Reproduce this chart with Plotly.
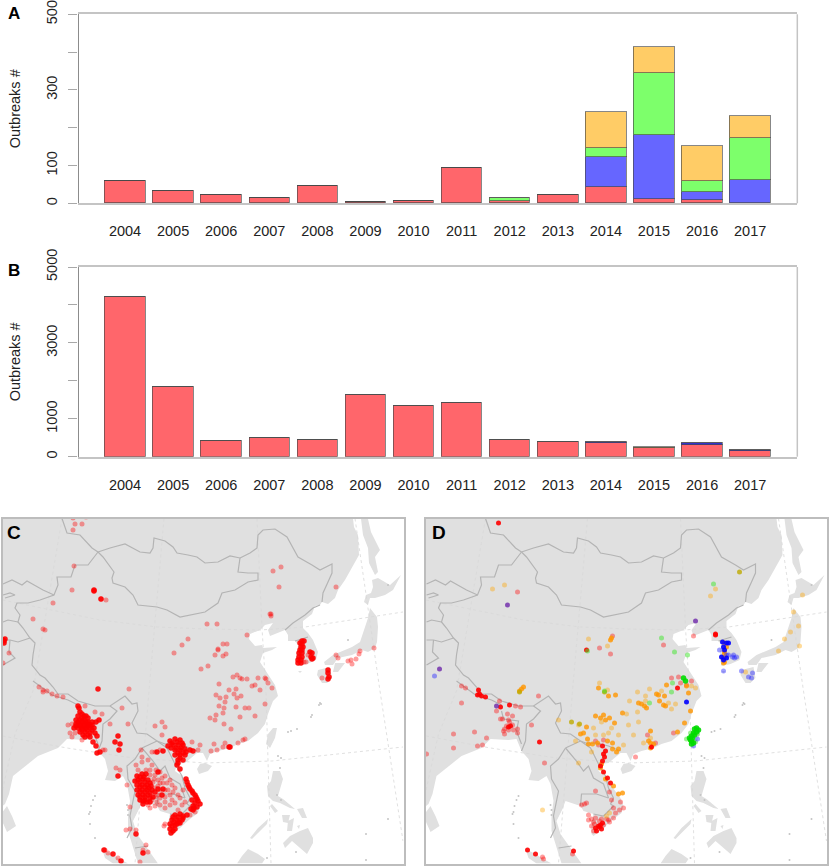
import plotly.graph_objects as go

W, H = 830, 867
FONT = 'Liberation Sans'

years = [2004, 2005, 2006, 2007, 2008, 2009, 2010, 2011, 2012, 2013, 2014, 2015, 2016, 2017]
year_labels = [str(y) for y in years]

# panel A, counts per serotype
a_red = [57, 31, 20, 12, 44, 3, 4, 93, 5, 22, 42, 11, 8, 1]
a_blue = [0, 0, 0, 0, 0, 0, 0, 0, 0, 0, 81, 169, 21, 59]
a_green = [0, 0, 0, 0, 0, 0, 0, 0, 8, 0, 22, 163, 28, 111]
a_yellow = [0, 0, 0, 0, 0, 0, 0, 0, 0, 0, 97, 69, 93, 59]
a_ticks = [0, 100, 200, 300, 400, 500]
a_ticktext = ['0', '100', '', '300', '', '500']

# panel B
b_red = [4200, 1845, 413, 483, 448, 1625, 1335, 1423, 440, 378, 365, 230, 299, 150]
b_blue = [0, 0, 0, 0, 0, 0, 0, 0, 0, 0, 13, 0, 70, 20]
b_yellow = [0, 0, 0, 0, 0, 0, 0, 0, 0, 0, 0, 25, 0, 6]
b_ticks = [0, 1000, 2000, 3000, 4000, 5000]
b_ticktext = ['0', '1000', '', '3000', '', '5000']

# base map in its own units
mainland = [(2.5, 518.5), (353, 518.5), (354, 527), (358, 535), (359, 555), (352, 568), (345, 580), (338, 590),
            (335, 598), (328, 604), (322, 602), (320, 605), (315, 606), (312, 614), (303, 621), (303, 628),
            (308, 633), (313, 640), (318, 652), (316, 660), (307, 664), (298, 666), (296, 657), (298, 645),
            (295, 641), (288, 641), (288, 635), (285, 630), (270, 636), (268, 630), (273, 623), (265, 625),
            (260, 630), (250, 634), (249, 639), (255, 646), (262, 645), (263, 648), (277, 647), (272, 650),
            (263, 653), (260, 662), (265, 670), (270, 678), (275, 685), (278, 696), (273, 701), (268, 714),
            (265, 724), (258, 733), (248, 741), (238, 744), (230, 748), (218, 751), (210, 754), (207, 761),
            (203, 753), (197, 753), (185, 763), (177, 764), (175, 771), (182, 776), (188, 786), (197, 798),
            (200, 806), (198, 813), (190, 819), (180, 828), (170, 836), (168, 834), (168, 823), (170, 814),
            (160, 811), (157, 806), (147, 803), (142, 801), (139, 809), (133, 821), (137, 834), (147, 848),
            (158, 863.5), (138, 863.5), (133, 848), (128, 831), (128, 816), (130, 801), (127, 784), (123, 776),
            (115, 781), (105, 780), (108, 771), (105, 759), (98, 751), (93, 739), (85, 740), (67, 739),
            (58, 748), (38, 756), (23, 768), (13, 776), (9, 794), (5, 804), (2.5, 806)]
islands = [
    [(102, 849), (110, 853), (120, 859), (128, 863.5), (113, 863.5), (105, 858)],  # Sumatra
    [(7, 806), (12, 816), (16, 826), (7, 832), (2.5, 822), (2.5, 812)],  # Sri Lanka
    [(197, 769), (200, 764), (205, 763), (212, 766), (208, 771), (203, 773), (199, 774)],  # Hainan
    [(273, 728), (277, 728), (275, 738), (270, 748), (266, 744), (268, 734)],  # Taiwan
    [(273, 771), (280, 771), (283, 779), (280, 788), (278, 796), (283, 799), (292, 806), (295, 809),
     (290, 808), (280, 803), (273, 801), (268, 796), (267, 786), (271, 781)],  # Luzon
    [(300, 831), (308, 828), (313, 838), (313, 843), (307, 854), (300, 848), (292, 841), (285, 848),
     (283, 843), (290, 836)],  # Mindanao
    [(268, 819), (267, 824), (258, 833), (252, 839), (250, 838), (258, 828)],  # Palawan
    [(272, 804), (278, 811), (275, 813), (270, 806)],  # Mindoro
    [(297, 809), (303, 808), (307, 818), (302, 818)],  # Samar
    [(282, 815), (290, 815), (288, 823), (283, 822)],  # Panay
    [(288, 821), (294, 818), (292, 831), (287, 831)],  # Negros
    [(297, 826), (300, 825), (299, 829)],  # Bohol
    [(248, 849), (258, 854), (265, 859), (262, 863.5), (237, 863.5), (242, 856)],  # Borneo
    [(361, 519), (368, 519), (371, 532), (380, 550), (375, 557), (378, 572), (375, 575), (369, 563),
     (368, 548), (363, 535)],  # Sakhalin
    [(372, 580), (378, 578), (390, 585), (401, 575), (393, 590), (385, 595), (375, 598), (370, 598),
     (368, 605), (364, 602), (366, 595), (371, 593), (373, 587)],  # Hokkaido
    [(370, 608), (377, 617), (378, 627), (377, 642), (375, 648), (368, 652), (362, 650), (352, 655),
     (338, 658), (333, 665), (325, 665), (324, 662), (333, 655), (352, 647), (360, 642), (365, 628),
     (368, 618)],  # Honshu
    [(335, 663), (345, 663), (338, 672), (333, 672)],  # Shikoku
    [(318, 670), (330, 667), (332, 678), (327, 683), (322, 683), (317, 675)],  # Kyushu
    [(298, 671), (302, 671), (300, 673)],  # Cheju
]
islets_x = [320, 321, 319, 312, 311, 288, 291, 297, 95, 93, 91, 90, 89, 90, 95, 127, 128, 128, 278, 281, 280, 277, 281,
            388, 366, 366, 296, 267, 348, 388]
islets_y = [703, 704, 705, 715, 717, 732, 731, 729, 796, 800, 806, 812, 814, 824, 838, 805, 810, 815, 756, 758, 768, 795, 800,
            819, 834, 860, 852, 858, 640, 585]

borders = [
    [(62, 518.5), (67, 533), (80, 535), (87, 542), (92, 548), (98, 552)],
    [(98, 552), (110, 548), (125, 544), (133, 548), (140, 552), (150, 553), (153, 548), (154, 538), (165, 541),
     (173, 547), (177, 553), (188, 555), (197, 557), (205, 563), (218, 562), (230, 556), (240, 558)],
    [(240, 558), (250, 553), (257, 548), (258, 535), (263, 530), (275, 529), (287, 537), (293, 548), (298, 557),
     (312, 565), (320, 570), (332, 564), (332, 573), (328, 582), (323, 593), (322, 602)],
    [(98, 552), (103, 557), (114, 572), (112, 578), (113, 583), (125, 587), (133, 595), (138, 605), (157, 607),
     (167, 610), (180, 617), (205, 612), (218, 603), (222, 593), (235, 590), (248, 582), (258, 580), (258, 573),
     (248, 573), (238, 572), (240, 558)],
    [(98, 552), (88, 565), (75, 565), (71, 577), (57, 577), (58, 585), (54, 595), (40, 600), (28, 603), (17, 603),
     (15, 608), (20, 615), (18, 622), (23, 628), (30, 638), (35, 643), (33, 655), (32, 665), (40, 675), (45, 678),
     (53, 687), (58, 694), (68, 694), (78, 701), (95, 706), (110, 706), (125, 696), (132, 704), (137, 703),
     (138, 711), (132, 723), (137, 733), (147, 734), (157, 741), (165, 744), (173, 743), (185, 746), (197, 751)],
    [(33, 681), (42, 688), (52, 695), (68, 700), (78, 705)],
    [(3, 584), (12, 580), (22, 585), (27, 581), (43, 590), (54, 595)],
    [(3, 595), (10, 593), (15, 595), (5, 598)],
    [(3, 622), (8, 620), (18, 622)],
    [(3, 640), (10, 640), (18, 642), (30, 638)],
    [(10, 640), (9, 652), (15, 658), (3, 665)],
    [(110, 706), (117, 711), (110, 719), (103, 724), (102, 741), (98, 751)],
    [(78, 711), (80, 719), (95, 721), (93, 731), (98, 744)],
    [(142, 748), (135, 759), (127, 766), (128, 779), (135, 791), (132, 804), (130, 816), (132, 828), (127, 838)],
    [(142, 748), (157, 741)],
    [(142, 748), (153, 761), (160, 771), (165, 766), (170, 778), (180, 784), (185, 798)],
    [(157, 806), (158, 794), (173, 794), (185, 798)],
    [(157, 741), (167, 748), (175, 764), (182, 776), (185, 788), (190, 798), (187, 804)],
    [(187, 804), (190, 806), (180, 816), (170, 814)],
    [(148, 846), (135, 848)],
    [(285, 630), (293, 623), (305, 615), (313, 608), (320, 605)],
    [(295, 641), (308, 637)],
]
graticule = [
    [(62, 518.5), (33, 691), (15, 734), (2.5, 790)],
    [(164, 518.5), (149, 691), (135, 863.5)],
    [(257, 518.5), (262, 628), (266, 691), (271, 863.5)],
    [(355, 518.5), (380, 691), (403, 841)],
    [(2.5, 600), (50, 610), (100, 620), (157, 627), (205, 629), (260, 630), (305, 627), (403, 612)],
    [(2.5, 736), (67, 748), (133, 758), (205, 763), (272, 761), (403, 747)],
]

# panel C outbreaks
c_faint = [(73, 518), (75, 524), (82, 524), (86, 517), (73, 530), (74, 566), (72, 590), (101, 599), (106, 600),
           (53, 603), (33, 619), (43, 629), (45, 630), (9, 653), (3, 663), (188, 639), (182, 645), (174, 653),
           (201, 669), (129, 689), (39, 687), (43, 690), (47, 691),
           (273, 571), (281, 567), (279, 587), (336, 587), (270, 614), (271, 616), (271, 614), (207, 624), (217, 624),
           (247, 635), (223, 644), (227, 644), (218, 649), (218, 650), (215, 655), (223, 656), (226, 654), (208, 666),
           (233, 677), (237, 675), (240, 678), (242, 679), (247, 679), (258, 678), (265, 678), (266, 679), (219, 684),
           (252, 686), (255, 685), (268, 683), (272, 688), (229, 690), (236, 689), (260, 690),
           (336, 655), (338, 658), (348, 661), (351, 660), (352, 664), (356, 659), (359, 654), (360, 651), (374, 648),
           (322, 678), (308, 655), (306, 662), (304, 662),
           (216, 695), (220, 698), (226, 697), (234, 694), (237, 698), (241, 696), (225, 702), (219, 706), (224, 708),
           (236, 707), (245, 708), (249, 708), (265, 704), (223, 713), (216, 715), (210, 718), (215, 720), (240, 717),
           (255, 716), (224, 724), (231, 729), (245, 739), (243, 740), (225, 743), (214, 744), (223, 747), (217, 750),
           (211, 751), (238, 743),
           (43, 692), (52, 694), (57, 696), (63, 697), (85, 706), (95, 712), (102, 714), (68, 725), (72, 724),
           (70, 733), (72, 737), (75, 733), (82, 740), (110, 724), (122, 708), (128, 724), (155, 726), (162, 722),
           (165, 727), (162, 735), (141, 750), (142, 757), (148, 760), (152, 752), (155, 752), (160, 750), (105, 750),
           (103, 750), (116, 768), (120, 770), (136, 765), (142, 762), (138, 770), (146, 770), (152, 765),
           (155, 775), (160, 772), (165, 776), (170, 780), (172, 785), (160, 783), (155, 788), (165, 790), (158, 795),
           (170, 795), (175, 788), (165, 802), (160, 805), (155, 806), (150, 808), (148, 805), (172, 800), (180, 798),
           (185, 802), (178, 810), (190, 815), (195, 812), (192, 742), (198, 750), (200, 745), (130, 807), (127, 785),
           (126, 830), (130, 829), (136, 830), (146, 845), (143, 850), (148, 852), (140, 862), (165, 824), (164, 826),
           (108, 853), (105, 850), (118, 858),
           (150, 770), (156, 770), (162, 778), (167, 783), (158, 780), (153, 782), (163, 783), (168, 790), (155, 797),
           (160, 798), (165, 797), (152, 800), (157, 802), (175, 803), (182, 805), (178, 795), (183, 790), (170, 805),
           (158, 786), (154, 779), (150, 775), (160, 790), (173, 792), (165, 808)]
c_dense = [(94, 591), (94, 590), (101, 599), (4, 641), (4, 643), (5, 639), (3, 640), (98, 689),
           (302, 641), (304, 641), (300, 643), (302, 644), (301, 647), (303, 647), (300, 650), (302, 650), (299, 653),
           (302, 653), (299, 657), (302, 657), (298, 660), (301, 660), (298, 663), (301, 663), (310, 652), (312, 653),
           (311, 657), (313, 658), (312, 659), (328, 670), (328, 673), (329, 677), (328, 679), (229, 747), (230, 747),
           (78, 706), (79, 708), (80, 712), (82, 714), (78, 716), (84, 716), (88, 718), (76, 720), (80, 720), (84, 720),
           (88, 722), (92, 722), (76, 724), (80, 724), (84, 724), (88, 724), (92, 725), (96, 722), (99, 720), (74, 728),
           (78, 728), (82, 728), (86, 728), (90, 728), (94, 728), (80, 732), (85, 732), (90, 733), (95, 733), (85, 737),
           (90, 737), (97, 736), (93, 742), (96, 746), (97, 753), (100, 752), (118, 736), (115, 742), (120, 744), (119, 750),
           (82, 718), (86, 716), (78, 722), (82, 722), (86, 722), (90, 725), (76, 726), (80, 726), (84, 726), (88, 726),
           (92, 730), (82, 730), (87, 730), (83, 735), (88, 735),
           (137, 776), (142, 774), (146, 774), (138, 780), (143, 779), (148, 780), (137, 785), (142, 785), (147, 785),
           (151, 786), (137, 790), (142, 790), (147, 790), (152, 790), (138, 795), (143, 795), (148, 795), (153, 797),
           (140, 800), (145, 800), (150, 802), (143, 804), (158, 772), (163, 789), (162, 795), (118, 776), (135, 781),
           (140, 777), (144, 777), (140, 782), (145, 782), (150, 783), (140, 787), (145, 787), (149, 788), (140, 792),
           (145, 792), (150, 793), (140, 797), (145, 797), (150, 798), (143, 801), (147, 802), (155, 792), (158, 789),
           (170, 741), (175, 739), (180, 740), (168, 746), (173, 745), (178, 745), (183, 745), (175, 750), (180, 750),
           (185, 749), (190, 750), (193, 751), (175, 755), (180, 755), (185, 755), (178, 760), (183, 760), (177, 765),
           (180, 769), (157, 752), (163, 751), (172, 743), (177, 742), (182, 743), (171, 748), (176, 748), (181, 748),
           (186, 752), (178, 753), (183, 753), (180, 758), (178, 763),
           (186, 779), (188, 785), (190, 789), (193, 793), (196, 797), (198, 801),
           (200, 804), (192, 800), (193, 806), (191, 809), (193, 810), (197, 807), (187, 782), (189, 787), (192, 791),
           (195, 795), (197, 799), (195, 803), (194, 808),
           (170, 824), (175, 815), (180, 814), (183, 816), (187, 815), (172, 820), (177, 820), (182, 820), (170, 829),
           (175, 825), (180, 823), (171, 833), (175, 829), (173, 817), (178, 817), (183, 818), (174, 822), (179, 822),
           (172, 826), (177, 824), (173, 831), (136, 834), (104, 850), (113, 854), (121, 861), (143, 853)]

# panel D outbreaks, one pair of lists per serotype colour
d_red_faint = [(94, 592), (38, 686), (42, 688), (189, 636), (176, 648), (187, 654), (240, 645), (270, 636), (248, 678),
               (255, 677), (268, 681), (257, 683), (263, 685), (38, 703), (76, 701), (92, 706), (97, 707), (73, 711),
               (115, 696), (79, 719), (84, 714), (89, 716), (77, 719), (89, 725), (94, 729), (80, 731), (81, 734),
               (94, 733), (108, 725), (81, 729), (30, 734), (51, 732), (63, 738), (30, 748), (54, 746), (59, 745), (3, 754),
               (121, 763), (119, 857), (120, 859), (149, 854), (161, 804), (158, 805), (163, 803), (172, 791),
               (168, 819), (165, 820), (178, 819), (183, 819), (190, 808), (192, 813), (200, 808), (186, 822),
               (170, 822), (170, 831), (212, 757), (232, 743), (224, 735), (250, 733),
               (165, 815), (172, 818), (176, 821), (180, 825), (168, 826), (171, 824), (185, 820), (190, 818), (196, 810),
               (197, 802), (188, 800), (186, 792), (85, 720), (86, 722), (83, 726), (90, 730), (85, 730), (175, 745),
               (172, 741), (180, 740)]
d_red_dense = [(75, 523), (163, 650), (292, 634), (292, 635), (254, 688), (54, 695), (56, 694), (58, 696), (62, 697), (77, 707),
               (86, 705), (87, 726), (85, 727), (116, 742), (104, 850), (112, 854), (150, 851), (55, 690),
               (180, 754), (181, 757), (179, 761), (177, 766), (180, 772), (184, 778), (187, 783), (179, 746), (182, 751),
               (175, 826), (176, 827), (172, 828), (178, 829), (177, 825), (179, 823), (173, 831), (228, 747)]
d_orange = [(187, 640), (188, 638), (100, 687), (98, 689), (96, 691), (175, 688), (243, 685), (263, 686), (301, 643),
            (303, 647), (301, 652), (301, 654), (300, 658), (301, 662), (300, 663),
            (186, 718), (182, 720), (191, 723), (172, 716), (177, 718), (160, 733), (163, 727), (157, 734), (169, 744),
            (165, 744), (174, 743), (184, 741), (189, 743), (195, 749), (193, 752), (189, 749), (164, 739), (180, 715),
            (185, 696), (192, 695), (199, 713), (199, 793), (195, 794), (190, 786), (182, 779), (177, 768), (178, 764),
            (233, 694), (235, 695), (241, 696), (236, 701), (240, 705), (242, 706), (215, 703), (218, 704), (221, 706),
            (223, 708), (265, 693), (267, 711), (227, 731), (225, 741), (227, 743), (230, 744), (227, 748), (267, 739),
            (254, 732), (261, 723)]
d_orange_faint = [(69, 589), (81, 585), (165, 639), (184, 646), (176, 683), (184, 690), (292, 589), (287, 596), (379, 595),
                  (370, 612), (375, 626), (367, 632), (361, 639), (355, 651), (376, 646), (322, 672), (268, 686), (272, 688),
                  (226, 689), (238, 691), (152, 741), (168, 752), (155, 763), (186, 813), (183, 816), (206, 701), (214, 692),
                  (222, 696), (222, 701), (214, 712), (203, 714), (245, 703), (252, 704), (248, 709), (227, 738), (220, 743),
                  (119, 810), (135, 720), (155, 725), (170, 728), (178, 722), (188, 728), (195, 735), (205, 725), (210, 735),
                  (180, 735), (172, 735), (200, 745), (185, 733), (215, 722)]
d_olive = [(316, 572), (148, 722), (156, 724), (96, 692), (181, 692)]
d_green = [(290, 584), (238, 638), (251, 652), (264, 655), (249, 683), (164, 651), (181, 691), (248, 692), (226, 703),
           (263, 739), (274, 734), (272, 742), (267, 733)]
d_green_dense = [(260, 678), (262, 681), (273, 728), (275, 730), (271, 729), (270, 733), (268, 736), (266, 738), (268, 741),
                 (270, 743), (268, 744), (271, 735), (273, 732), (267, 740), (269, 738)]
d_blue = [(299, 642), (303, 643), (305, 643), (300, 647), (301, 650), (298, 657), (303, 658), (300, 660), (263, 702)]
d_blue_faint = [(310, 655), (313, 657), (311, 658), (309, 657), (300, 671), (318, 671), (329, 673), (325, 677), (328, 678),
                (305, 655), (11, 676), (274, 739), (270, 746), (296, 650), (303, 655)]
d_purple = [(84, 605), (73, 706), (16, 669), (272, 621)]


def unzip(rings, close=True):
    xs, ys = [], []
    for ring in rings:
        pts = ring + ring[:1] if close else ring
        xs += [p[0] for p in pts] + [None]
        ys += [p[1] for p in pts] + [None]
    return xs, ys


def dots(points, color, size=5, xaxis='x3', yaxis='y3'):
    return go.Scatter(x=[p[0] for p in points], y=[p[1] for p in points], mode='markers',
                      marker=dict(color=color, size=size, line=dict(width=0)),
                      xaxis=xaxis, yaxis=yaxis, hoverinfo='skip')


fig = go.Figure()

# stacked bars
BAR_LINE = dict(color='rgba(70,70,70,0.65)', width=1)
for vals, col in [(a_red, '#ff666b'), (a_blue, '#6666ff'), (a_green, '#7dff6b'), (a_yellow, '#ffcc66')]:
    fig.add_trace(go.Bar(x=years, y=vals, width=0.84, marker=dict(color=col, line=BAR_LINE), xaxis='x', yaxis='y'))
for vals, col in [(b_red, '#ff666b'), (b_blue, '#3333cc'), (b_yellow, '#a08040')]:
    fig.add_trace(go.Bar(x=years, y=vals, width=0.84, marker=dict(color=col, line=BAR_LINE), xaxis='x2', yaxis='y2'))

# the two maps share the base layers
for xa, ya in [('x3', 'y3'), ('x4', 'y4')]:
    land_x, land_y = unzip([mainland] + islands)
    fig.add_trace(go.Scatter(x=land_x, y=land_y, mode='lines', fill='toself', fillcolor='#e0e0e0',
                             line=dict(width=0), xaxis=xa, yaxis=ya, hoverinfo='skip'))
    gx, gy = unzip(graticule, close=False)
    fig.add_trace(go.Scatter(x=gx, y=gy, mode='lines', line=dict(color='#d8d8d8', width=0.8, dash='dot'),
                             xaxis=xa, yaxis=ya, hoverinfo='skip'))
    bx, by = unzip(borders, close=False)
    fig.add_trace(go.Scatter(x=bx, y=by, mode='lines', line=dict(color='#b4b4b4', width=1.2),
                             xaxis=xa, yaxis=ya, hoverinfo='skip'))
    fig.add_trace(go.Scatter(x=islets_x, y=islets_y, mode='markers', marker=dict(color='#c4c4c4', size=2),
                             xaxis=xa, yaxis=ya, hoverinfo='skip'))

fig.add_trace(dots(c_faint, 'rgba(255,0,0,0.38)'))
fig.add_trace(dots(c_dense, 'rgba(255,0,0,0.9)', size=5.5))

for pts, col, size in [(d_red_faint, 'rgba(255,0,0,0.38)', 5),
                       (d_orange_faint, 'rgba(255,165,0,0.4)', 5),
                       (d_orange, 'rgba(255,150,0,0.8)', 5),
                       (d_red_dense, 'rgba(255,0,0,0.9)', 5),
                       (d_olive, 'rgba(190,170,0,0.8)', 5),
                       (d_green, 'rgba(60,230,40,0.5)', 5),
                       (d_blue_faint, 'rgba(40,40,255,0.45)', 5),
                       (d_blue, 'rgba(0,0,255,0.9)', 5),
                       (d_green_dense, 'rgba(0,220,0,0.9)', 5.5),
                       (d_purple, 'rgba(110,40,170,0.8)', 5)]:
    fig.add_trace(dots(pts, col, size, 'x4', 'y4'))


def dom_x(a, b):
    return [a / W, b / W]


def dom_y(top, bottom):
    return [1 - bottom / H, 1 - top / H]


tick_font = dict(family=FONT, size=14.5, color='#222222')


def bar_xaxis(domain, anchor):
    return dict(domain=domain, anchor=anchor, range=[2003.033, 2017.98], tickmode='array', tickvals=years,
                ticktext=year_labels, tickfont=tick_font, ticks='', ticklabelstandoff=14, showgrid=False,
                automargin=False, zeroline=False, showline=True, linecolor='#c4c4c4', linewidth=1.5, mirror=True)


def bar_yaxis(domain, anchor, top, tickvals, ticktext):
    return dict(domain=domain, anchor=anchor, range=[0, top], tickmode='array', tickvals=tickvals,
                ticktext=ticktext, tickfont=tick_font, tickangle=-90, ticks='outside', ticklen=9.5, tickwidth=1,
                tickcolor='#a8a8a8', ticklabelstandoff=5, showgrid=False, zeroline=False, showline=True,
                automargin=False, linecolor='#8c8c8c', linewidth=1.2,
                title=dict(text='Outbreaks #', font=tick_font, standoff=20))


def map_xaxis(domain, anchor):
    return dict(domain=domain, anchor=anchor, range=[2.5, 403.5], showticklabels=False, ticks='', automargin=False,
                showgrid=False, zeroline=False, showline=True, linecolor='#bdbdbd', linewidth=2, mirror=True)


def map_yaxis(domain, anchor):
    return dict(domain=domain, anchor=anchor, range=[863.5, 518.5], showticklabels=False, ticks='', automargin=False,
                showgrid=False, zeroline=False, showline=True, linecolor='#bdbdbd', linewidth=2, mirror=True)


def panel_letter(text, x, y, size):
    return dict(text='<b>%s</b>' % text, x=x / W, y=1 - y / H, xref='paper', yref='paper', showarrow=False,
                xanchor='center', yanchor='middle', font=dict(family=FONT, size=size, color='black'))


def right_edge(xref, yref):
    return dict(type='line', xref=xref + ' domain', yref=yref + ' domain', x0=1, x1=1, y0=0, y1=1,
                line=dict(color='#c4c4c4', width=1.5))


fig.update_layout(
    width=W, height=H, margin=dict(l=0, r=0, t=0, b=0, pad=0), autosize=False,
    paper_bgcolor='white', plot_bgcolor='white', showlegend=False, barmode='stack', bargap=0,
    xaxis=bar_xaxis(dom_x(78.5, 797.3), 'y'),
    yaxis=bar_yaxis(dom_y(14.3, 203.3), 'x', 500, a_ticks, a_ticktext),
    xaxis2=bar_xaxis(dom_x(78.5, 797.3), 'y2'),
    yaxis2=bar_yaxis(dom_y(267, 456.7), 'x2', 5000, b_ticks, b_ticktext),
    xaxis3=map_xaxis(dom_x(2.5, 403.5), 'y3'),
    yaxis3=map_yaxis(dom_y(518.5, 863.5), 'x3'),
    xaxis4=map_xaxis(dom_x(426, 827), 'y4'),
    yaxis4=map_yaxis(dom_y(518.5, 863.5), 'x4'),
    shapes=[right_edge('x', 'y'), right_edge('x2', 'y2')],
    annotations=[panel_letter('A', 14, 14, 17), panel_letter('B', 14, 270, 17),
                 panel_letter('C', 14, 532, 19), panel_letter('D', 439, 532, 19)],
)

fig.write_html("out.html", config={'displayModeBar': False},
               post_script="document.body.style.margin='0';document.body.style.overflow='hidden';")
